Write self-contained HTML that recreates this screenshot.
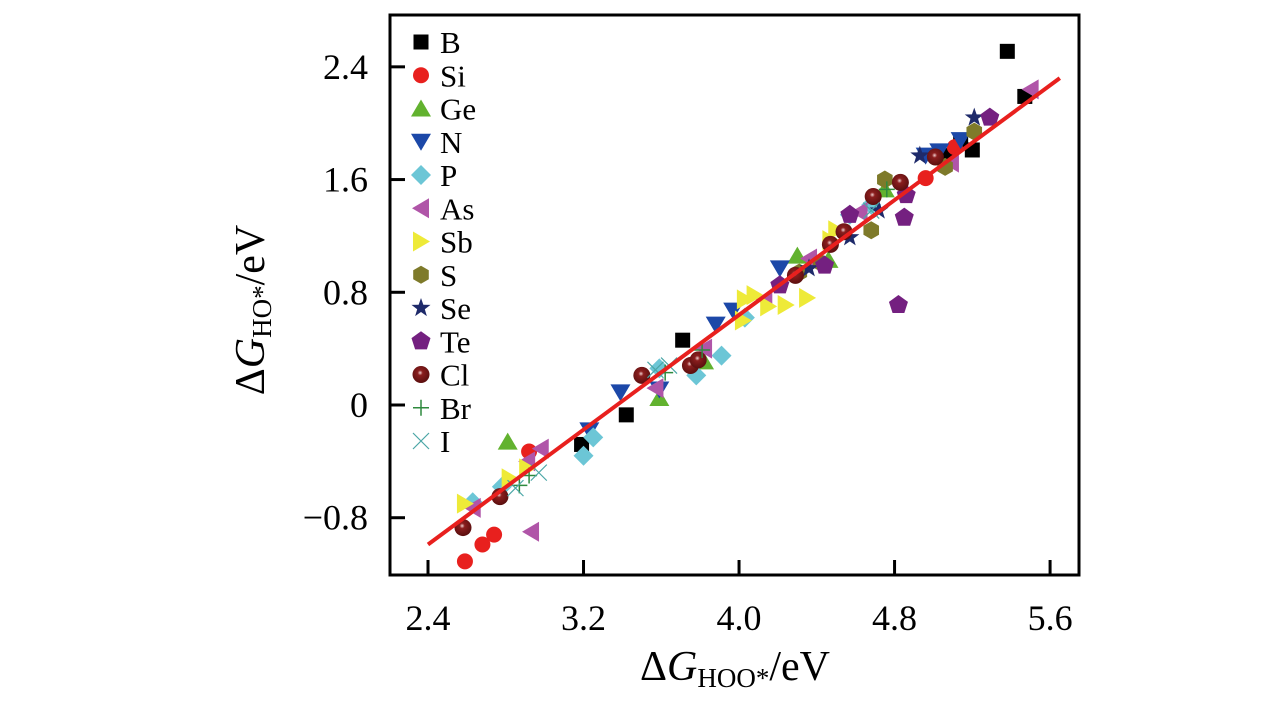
<!DOCTYPE html>
<html><head><meta charset="utf-8"><style>
html,body{margin:0;padding:0;background:#fff;}
svg{display:block;font-family:"Liberation Serif",serif;}
</style></head><body>
<svg id="chart" width="1283" height="709" viewBox="0 0 1283 709" xmlns="http://www.w3.org/2000/svg"></svg>
<script>
const xTicks=[2.4,3.2,4.0,4.8,5.6];
const yTicks=[-0.8,0,0.8,1.6,2.4];
const xTickLabels=["2.4","3.2","4.0","4.8","5.6"];
const yTickLabels=["\u22120.8","0","0.8","1.6","2.4"];
const seriesNames=["B","Si","Ge","N","P","As","Sb","S","Se","Te","Cl","Br","I"];
const B_x=[5.38,5.47,5.20,5.14,3.71,3.42,3.19,5.06];
const B_y=[2.51,2.19,1.81,1.88,0.46,-0.07,-0.28,1.77];
const Si_x=[2.59,2.68,2.74,2.92,5.11,4.96];
const Si_y=[-1.11,-0.99,-0.92,-0.33,1.83,1.61];
const Ge_x=[2.81,3.59,3.82,4.30,4.75,4.46];
const Ge_y=[-0.26,0.05,0.31,1.06,1.53,1.03];
const N_x=[3.23,3.39,3.59,3.88,3.97,4.21,4.96,5.03,5.14];
const N_y=[-0.18,0.09,0.11,0.57,0.67,0.97,1.77,1.80,1.88];
const P_x=[2.63,2.78,3.20,3.25,3.59,3.78,3.91,4.03,4.57,4.68];
const P_y=[-0.69,-0.58,-0.36,-0.23,0.26,0.21,0.35,0.62,1.35,1.42];
const As_x=[2.93,2.63,2.91,2.98,3.57,3.82,4.13,4.36,4.62,5.50,5.09];
const As_y=[-0.90,-0.73,-0.40,-0.31,0.12,0.40,0.75,1.04,1.37,2.24,1.72];
const Sb_x=[2.59,2.82,2.91,4.03,4.08,4.15,4.24,4.35,4.47,4.50,4.02];
const Sb_y=[-0.70,-0.52,-0.45,0.75,0.78,0.70,0.71,0.76,1.17,1.24,0.60];
const S_x=[4.31,4.68,5.06,5.21,4.75,4.42];
const S_y=[0.94,1.24,1.69,1.94,1.60,1.01];
const Se_x=[5.21,4.93,4.72,4.57,4.36];
const Se_y=[2.04,1.77,1.38,1.19,0.97];
const Te_x=[4.82,5.29,4.85,4.57,4.21,4.86,4.44];
const Te_y=[0.71,2.04,1.33,1.35,0.85,1.49,0.99];
const Cl_x=[2.58,2.77,3.50,3.75,3.79,4.29,4.47,4.54,4.69,4.83,5.01];
const Cl_y=[-0.87,-0.65,0.21,0.28,0.32,0.92,1.14,1.23,1.48,1.58,1.76];
const Br_x=[2.87,2.92,3.81,3.62,4.76];
const Br_y=[-0.57,-0.50,0.39,0.23,1.53];
const I_x=[2.85,2.97,3.57,3.64,4.68];
const I_y=[-0.59,-0.48,0.25,0.28,1.38];
const fitX=[2.4,5.65];
const fitY=[-0.99,2.32];

const NS="http://www.w3.org/2000/svg";
const svg=document.getElementById('chart');
const X0=390,X1=1079,Y0=15,Y1=575;
function sx(v){return 428+(v-2.4)*194.4;}
function sy(v){return 405-v*140.9;}
function mk(tag,attrs,parent){const e=document.createElementNS(NS,tag);for(const k in attrs)e.setAttribute(k,attrs[k]);(parent||svg).appendChild(e);return e;}

const colors={B:"#000",Si:"#e8201e",Ge:"#62b22f",N:"#1c48a8",P:"#6cc6d6",As:"#b055a8",Sb:"#eeea38",S:"#7e7a2a",Se:"#1e2a6a",Te:"#742080",Cl:"#7a1616",Br:"#2e8a3e",I:"#4aa6a6"};
const defs=mk('defs',{});
const grad=mk('radialGradient',{id:'ball',cx:'0.45',cy:'0.4',r:'0.6'},defs);
mk('stop',{offset:'0','stop-color':'#f0d0d0'},grad);
mk('stop',{offset:'0.25','stop-color':'#8a1e1e'},grad);
mk('stop',{offset:'1','stop-color':'#5a0e0e'},grad);

function marker(name,x,y,g){
  const c=colors[name];let e;
  if(name==="B") e=mk('rect',{x:x-7.5,y:y-7.5,width:15,height:15,fill:c},g);
  else if(name==="Si") e=mk('circle',{cx:x,cy:y,r:8,fill:c},g);
  else if(name==="Ge") e=mk('polygon',{points:`${x},${y-9} ${x+10},${y+8} ${x-10},${y+8}`,fill:c},g);
  else if(name==="N") e=mk('polygon',{points:`${x},${y+9} ${x+10},${y-8} ${x-10},${y-8}`,fill:c},g);
  else if(name==="P") e=mk('polygon',{points:`${x},${y-10} ${x+10},${y} ${x},${y+10} ${x-10},${y}`,fill:c},g);
  else if(name==="As") e=mk('polygon',{points:`${x-9},${y} ${x+8},${y-10} ${x+8},${y+10}`,fill:c},g);
  else if(name==="Sb") e=mk('polygon',{points:`${x+9},${y} ${x-8},${y-10} ${x-8},${y+10}`,fill:c},g);
  else if(name==="S"){let p=[];for(let i=0;i<6;i++){const a=Math.PI/6+i*Math.PI/3;p.push((x+9*Math.cos(a))+","+(y+9*Math.sin(a)));}e=mk('polygon',{points:p.join(' '),fill:c},g);}
  else if(name==="Se"){let p=[];for(let i=0;i<10;i++){const r=i%2?4:10;const a=-Math.PI/2+i*Math.PI/5;p.push((x+r*Math.cos(a))+","+(y+r*Math.sin(a)));}e=mk('polygon',{points:p.join(' '),fill:c},g);}
  else if(name==="Te"){let p=[];for(let i=0;i<5;i++){const a=-Math.PI/2+i*2*Math.PI/5;p.push((x+10*Math.cos(a))+","+(y+10*Math.sin(a)));}e=mk('polygon',{points:p.join(' '),fill:c},g);}
  else if(name==="Cl") e=mk('circle',{cx:x,cy:y,r:8.5,fill:'url(#ball)'},g);
  else if(name==="Br") e=mk('path',{d:`M${x-8},${y}H${x+8}M${x},${y-8}V${y+8}`,stroke:c,'stroke-width':1.5,fill:'none'},g);
  else if(name==="I") e=mk('path',{d:`M${x-8},${y-8}L${x+8},${y+8}M${x+8},${y-8}L${x-8},${y+8}`,stroke:c,'stroke-width':1.2,fill:'none'},g);
  return e;
}

const data={B:[B_x,B_y],Si:[Si_x,Si_y],Ge:[Ge_x,Ge_y],N:[N_x,N_y],P:[P_x,P_y],As:[As_x,As_y],Sb:[Sb_x,Sb_y],S:[S_x,S_y],Se:[Se_x,Se_y],Te:[Te_x,Te_y],Cl:[Cl_x,Cl_y],Br:[Br_x,Br_y],I:[I_x,I_y]};
seriesNames.forEach(n=>{
  const g=mk('g',{});
  
  
  const [xs,ys]=data[n];
  xs.forEach((v,i)=>{const m=marker(n,sx(v),sy(ys[i]),g);
    
    });
});

const fit=mk('line',{x1:sx(fitX[0]),y1:sy(fitY[0]),x2:sx(fitX[1]),y2:sy(fitY[1]),stroke:'#e8201e','stroke-width':4});



const frame=mk('rect',{x:X0,y:Y0,width:X1-X0,height:Y1-Y0,fill:'none',stroke:'#000','stroke-width':3});



xTicks.forEach((v,i)=>{
  const t=mk('line',{x1:sx(v),y1:Y1,x2:sx(v),y2:Y1-15,stroke:'#000','stroke-width':3});
  
  
  const l=mk('text',{x:sx(v),y:630,'font-size':36,'text-anchor':'middle'});
  l.textContent=xTickLabels[i];
  
  
});
yTicks.forEach((v,i)=>{
  const t=mk('line',{x1:X0,y1:sy(v),x2:X0+15,y2:sy(v),stroke:'#000','stroke-width':3});
  
  
  const l=mk('text',{x:368,y:sy(v)+12,'font-size':36,'text-anchor':'end'});
  l.textContent=yTickLabels[i];
  
  
});

const xl=mk('text',{x:735,y:680,'font-size':42,'text-anchor':'middle'});
xl.innerHTML='\u0394<tspan font-style="italic">G</tspan><tspan font-size="27" dy="7">HOO*</tspan><tspan dy="-7">/eV</tspan>';


const yl=mk('text',{x:0,y:0,'font-size':42,'text-anchor':'middle',transform:'translate(264,310) rotate(-90)'});
yl.innerHTML='\u0394<tspan font-style="italic">G</tspan><tspan font-size="27" dy="7">HO*</tspan><tspan dy="-7">/eV</tspan>';



const leg=mk('g',{});


seriesNames.forEach((n,i)=>{
  const y=42+i*33.25;
  const g=mk('g',{},leg);
  
  
  marker(n,421,y,g);
  const t=mk('text',{x:440,y:y+11,'font-size':31},g);
  t.textContent=n;
});
</script>
</body></html>
